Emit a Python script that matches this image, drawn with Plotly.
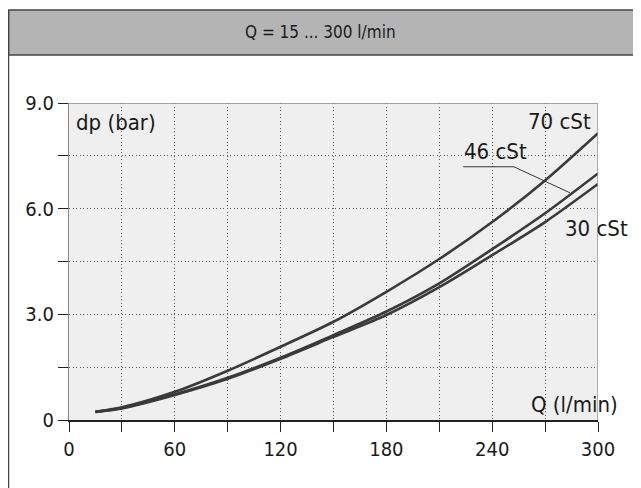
import plotly.graph_objects as go

# ---- data ----
q_flow = [15, 30, 60, 90, 120, 150, 180, 210, 240, 270, 300]
dp_70cst = [0.23, 0.36, 0.80, 1.40, 2.08, 2.79, 3.64, 4.57, 5.62, 6.80, 8.14]
dp_46cst = [0.23, 0.34, 0.73, 1.20, 1.77, 2.41, 3.08, 3.88, 4.85, 5.87, 7.00]
dp_30cst = [0.23, 0.33, 0.71, 1.17, 1.74, 2.36, 2.98, 3.77, 4.68, 5.62, 6.70]

x_tickvals = [0, 30, 60, 90, 120, 150, 180, 210, 240, 270, 300]
x_ticktext = ["0", "", "60", "", "120", "", "180", "", "240", "", "300"]
y_tickvals = [0, 1.5, 3.0, 4.5, 6.0, 7.5, 9.0]
y_ticktext = ["0", "", "3.0", "", "6.0", "", "9.0"]

title_text = "Q = 15 ... 300 l/min"

FONT = "Liberation Sans Narrow, DejaVu Sans Condensed, sans-serif"
LINE_COL = "#3a3a3a"

fig = go.Figure()
for name, ys in [("70 cSt", dp_70cst), ("46 cSt", dp_46cst), ("30 cSt", dp_30cst)]:
    fig.add_trace(go.Scatter(x=q_flow, y=ys, mode="lines", name=name,
                             line=dict(color=LINE_COL, width=2.6, shape="spline", smoothing=0.8),
                             hoverinfo="skip"))

# figure sits in the page with an 8px body margin
W, H = 633, 480
L, R, T, B = 61, 43, 95, 68
pw, ph = W - L - R, H - T - B
OFF = 8

def px2paper_x(px):  # page pixel -> paper
    return (px - OFF - L) / pw

def px2paper_y(py):
    return (H - B - (py - OFF)) / ph

shapes = [
    dict(type="rect", xref="paper", yref="paper",
         x0=px2paper_x(8.6), x1=px2paper_x(660), y0=px2paper_y(55), y1=px2paper_y(10),
         fillcolor="#b4b4b4", line=dict(color="#444444", width=1.3), layer="below"),
    dict(type="line", xref="paper", yref="paper",
         x0=px2paper_x(8.6), x1=px2paper_x(8.6), y0=px2paper_y(10), y1=px2paper_y(500),
         line=dict(color="#444444", width=1.3)),
    dict(type="line", xref="x", yref="y", x0=0, x1=300, y0=9, y1=9,
         line=dict(color="#8a8a8a", width=1.3)),
    dict(type="line", xref="x", yref="y", x0=300, x1=300, y0=0, y1=9,
         line=dict(color="#8a8a8a", width=1.3)),
    dict(type="path", xref="x", yref="y",
         path="M 223.6,7.19 L 252.3,7.19 L 284.1,6.45",
         line=dict(color="#333333", width=1)),
]

TXT = "#1a1a1a"
annotations = [
    dict(text=title_text, xref="paper", yref="paper", x=px2paper_x(320), y=px2paper_y(32),
         xanchor="center", yanchor="middle", showarrow=False,
         font=dict(family=FONT, size=17, color=TXT)),
    dict(text="dp (bar)", xref="x", yref="y", x=3.0, y=8.46, xanchor="left", yanchor="middle",
         showarrow=False, font=dict(family=FONT, size=22, color=TXT)),
    dict(text="70 cSt", xref="x", yref="y", x=297.0, y=8.47, xanchor="right", yanchor="middle",
         showarrow=False, font=dict(family=FONT, size=22, color=TXT)),
    dict(text="46 cSt", xref="x", yref="y", x=223.0, y=7.63, xanchor="left", yanchor="middle",
         showarrow=False, font=dict(family=FONT, size=22, color=TXT)),
    dict(text="30 cSt", xref="x", yref="y", x=280.0, y=5.44, xanchor="left", yanchor="middle",
         showarrow=False, font=dict(family=FONT, size=22, color=TXT)),
    dict(text="Q (l/min)", xref="x", yref="y", x=261.0, y=0.45, xanchor="left", yanchor="middle",
         showarrow=False, font=dict(family=FONT, size=22, color=TXT)),
]

GRID = dict(showgrid=True, gridcolor="#5a5a5a", griddash="1px,2.5px", gridwidth=1)

fig.update_layout(
    width=W, height=H,
    margin=dict(l=L, r=R, t=T, b=B, pad=0),
    paper_bgcolor="white", plot_bgcolor="#efefef",
    showlegend=False,
    shapes=shapes, annotations=annotations,
    font=dict(family=FONT, size=20, color=TXT),
    xaxis=dict(range=[0, 300], tickmode="array", tickvals=x_tickvals, ticktext=x_ticktext,
               ticks="outside", ticklen=10, tickwidth=1.3, tickcolor="#222222",
               showline=True, linecolor="#222222", linewidth=1.5,
               zeroline=False, tickfont=dict(family=FONT, size=20, color=TXT),
               fixedrange=True, **GRID),
    yaxis=dict(range=[0, 9], tickmode="array", tickvals=y_tickvals, ticktext=y_ticktext,
               ticks="outside", ticklen=10, tickwidth=1.3, tickcolor="#222222",
               showline=True, linecolor="#8a8a8a", linewidth=1.3,
               zeroline=False, tickfont=dict(family=FONT, size=20, color=TXT),
               fixedrange=True, **GRID),
)

fig.write_html("out.html", config={"displayModeBar": False})
